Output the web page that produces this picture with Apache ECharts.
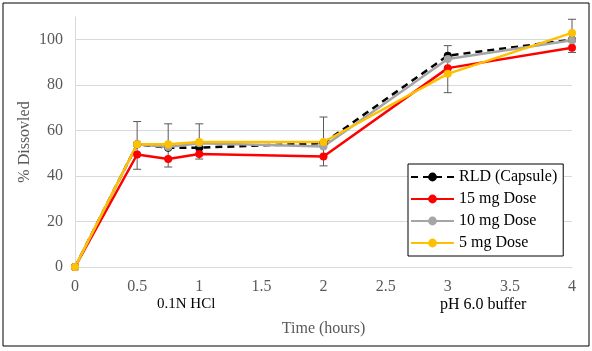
<!DOCTYPE html>
<html>
<head>
<meta charset="utf-8">
<script src="https://cdn.jsdelivr.net/npm/echarts@6/dist/echarts.min.js"></script>
<style>
html,body{margin:0;padding:0;background:#fff;}
#c{width:592px;height:351px;}
</style>
</head>
<body>
<div id="c"></div>
<script>
const times = [0, 0.5, 0.75, 1, 2, 3, 4];
const seriesNames = ['RLD (Capsule)', '15 mg Dose', '10 mg Dose', '5 mg Dose'];
const rld = [0, 54, 52.5, 52.5, 54.5, 93, 100];
const dose15 = [0, 49.5, 47.5, 49.7, 48.6, 87.5, 96.5];
const dose10 = [0, 54, 52.8, 54.5, 53, 91.5, 99.8];
const dose5 = [0, 54, 54, 55, 55, 85, 103];
const errLow = [0, 43, 44, 47.5, 44.5, 76.7, 94.4];
const errHigh = [0, 64, 63, 63, 66, 97.4, 109];
const phaseLabels = ['0.1N HCl', 'pH 6.0 buffer'];

const serif = 'Liberation Serif, Times New Roman, serif';
const pair = (ys) => times.map((t, i) => [t, ys[i]]);
const errData = times.map((t, i) => [t, errLow[i], errHigh[i]]).filter(d => d[2] > d[1]);

const chart = echarts.init(document.getElementById('c'), null, {renderer: 'canvas'});

function lineSeries(name, data, color, dashed) {
  return {
    name: name, type: 'line', data: pair(data),
    symbol: 'circle', symbolSize: 8,
    itemStyle: {color: color},
    lineStyle: {color: color, width: 2.5, type: dashed ? [7, 5] : 'solid'},
    z: 3
  };
}

chart.setOption({
  animation: false,
  backgroundColor: '#fff',
  grid: {left: 75, right: 20, top: 17, bottom: 84},
  xAxis: {
    type: 'value', min: 0, max: 4, interval: 0.5,
    name: 'Time (hours)', nameLocation: 'middle', nameGap: 54,
    nameTextStyle: {fontFamily: serif, fontSize: 16, color: '#595959'},
    axisLine: {show: true, lineStyle: {color: '#d9d9d9', width: 1}},
    axisTick: {show: false},
    splitLine: {show: false},
    axisLabel: {fontFamily: serif, fontSize: 16, color: '#595959', margin: 12}
  },
  yAxis: {
    type: 'value', min: 0, max: 110, interval: 10,
    name: '% Dissovled', nameLocation: 'middle', nameGap: 42, nameMoveOverlap: false,
    nameTextStyle: {fontFamily: serif, fontSize: 16, color: '#595959'},
    axisLine: {show: true, lineStyle: {color: '#d9d9d9', width: 1}},
    axisTick: {show: false},
    splitLine: {show: true, lineStyle: {color: ['#d9d9d9', 'rgba(0,0,0,0)'], width: 1}},
    axisLabel: {
      fontFamily: serif, fontSize: 16, color: '#595959', margin: 12,
      formatter: v => (v % 20 === 0 && v <= 100) ? String(v) : ''
    }
  },
  legend: {
    orient: 'vertical', left: 408, top: 164,
    data: seriesNames,
    backgroundColor: '#fff', borderColor: '#000', borderWidth: 1,
    padding: [5, 6, 5, 2], itemGap: 6, itemWidth: 43, itemHeight: 11,
    textStyle: {fontFamily: serif, fontSize: 16, color: '#000', lineHeight: 15},
    itemStyle: {borderWidth: 0}
  },
  graphic: [
    {type: 'rect', shape: {x: 3, y: 3, width: 586, height: 343}, style: {fill: 'none', stroke: '#000', lineWidth: 1}, silent: true},
    {type: 'text', left: 157, top: 297, style: {text: phaseLabels[0], font: '15px ' + serif, fill: '#000'}},
    {type: 'text', left: 440, top: 297, style: {text: phaseLabels[1], font: '16px ' + serif, fill: '#000'}}
  ],
  series: [
    {
      name: 'err', type: 'custom', data: errData, z: 2,
      renderItem: function (params, api) {
        const x = api.value(0);
        const lo = api.coord([x, api.value(1)]);
        const hi = api.coord([x, api.value(2)]);
        const w = 4;
        const st = {stroke: '#595959', lineWidth: 1};
        return {type: 'group', children: [
          {type: 'line', shape: {x1: lo[0], y1: lo[1], x2: hi[0], y2: hi[1]}, style: st},
          {type: 'line', shape: {x1: lo[0] - w, y1: lo[1], x2: lo[0] + w, y2: lo[1]}, style: st},
          {type: 'line', shape: {x1: hi[0] - w, y1: hi[1], x2: hi[0] + w, y2: hi[1]}, style: st}
        ]};
      },
      encode: {x: 0, y: [1, 2]},
      silent: true
    },
    lineSeries(seriesNames[0], rld, '#000000', true),
    lineSeries(seriesNames[1], dose15, '#ff0000', false),
    lineSeries(seriesNames[2], dose10, '#a5a5a5', false),
    lineSeries(seriesNames[3], dose5, '#ffc000', false)
  ]
});
</script>
</body>
</html>
